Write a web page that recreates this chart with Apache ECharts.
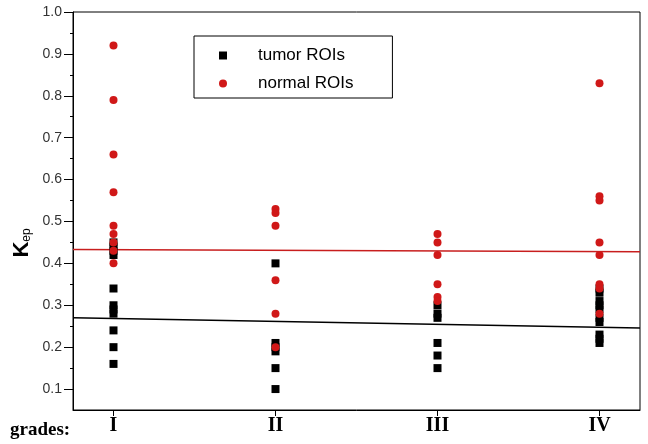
<!DOCTYPE html>
<html>
<head>
<meta charset="utf-8">
<script src="https://cdn.jsdelivr.net/npm/echarts@6/dist/echarts.min.js"></script>
<style>html,body{margin:0;padding:0;background:#fff}#c{width:648px;height:444px}</style>
</head>
<body>
<div id="c"></div>
<script>
var grades = ['I', 'II', 'III', 'IV'];
var yTicks = [0.1, 0.2, 0.3, 0.4, 0.5, 0.6, 0.7, 0.8, 0.9, 1.0];
var yMinorTicks = [0.15, 0.25, 0.35, 0.45, 0.55, 0.65, 0.75, 0.85, 0.95];
var tumorI = [0.45, 0.44, 0.43, 0.42, 0.34, 0.30, 0.29, 0.28, 0.24, 0.20, 0.16];
var tumorII = [0.40, 0.21, 0.20, 0.19, 0.15, 0.10];
var tumorIII = [0.30, 0.28, 0.27, 0.21, 0.18, 0.15];
var tumorIV = [0.34, 0.33, 0.31, 0.30, 0.29, 0.27, 0.26, 0.23, 0.22, 0.21];
var normalI = [0.92, 0.79, 0.66, 0.57, 0.49, 0.47, 0.45, 0.43, 0.40];
var normalII = [0.53, 0.52, 0.49, 0.36, 0.28, 0.20];
var normalIII = [0.47, 0.45, 0.42, 0.35, 0.32, 0.31];
var normalIV = [0.83, 0.56, 0.55, 0.45, 0.42, 0.35, 0.34, 0.28];
var fitX = [0.75, 4.25];
var tumorFit = [0.270, 0.246];
var normalFit = [0.433, 0.428];

function pts(groups) {
  var out = [];
  groups.forEach(function (g, i) { g.forEach(function (v) { out.push([i + 1, v]); }); });
  return out;
}
function line(ys) { return fitX.map(function (x, i) { return [x, ys[i]]; }); }

var chart = echarts.init(document.getElementById('c'));
chart.setOption({
  animation: false,
  grid: { left: 73, right: 8, top: 12, bottom: 34, show: true, borderColor: '#000', borderWidth: 1 },
  xAxis: {
    type: 'value', min: 0.75, max: 4.25,
    splitLine: { show: false },
    axisLine: { lineStyle: { color: '#000', width: 1 } },
    axisTick: { show: true, length: 6, lineStyle: { color: '#000' }, customValues: [1, 2, 3, 4] },
    axisLabel: {
      customValues: [1, 2, 3, 4], margin: 6,
      formatter: function (v) { return grades[Math.round(v) - 1] || ''; },
      fontFamily: 'Liberation Serif', fontWeight: 'bold', fontSize: 20, color: '#000'
    }
  },
  yAxis: [{
    type: 'value', min: 0.05, max: 1.0,
    splitLine: { show: false },
    axisLine: { lineStyle: { color: '#000', width: 1 } },
    axisTick: { show: true, length: 9, lineStyle: { color: '#000' }, customValues: yTicks },
    axisLabel: {
      customValues: yTicks, margin: 11,
      formatter: function (v) { return v.toFixed(1); },
      fontFamily: 'Liberation Sans', fontSize: 14, color: '#333'
    }
  }, {
    type: 'value', min: 0.05, max: 1.0, position: 'left',
    splitLine: { show: false },
    axisLine: { show: false },
    axisTick: { show: true, length: 3, lineStyle: { color: '#000' }, customValues: yMinorTicks },
    axisLabel: { show: false }
  }],
  legend: {
    orient: 'vertical', left: 194, top: 36,
    borderColor: '#000', borderWidth: 1, padding: [11, 39, 6, 25],
    itemWidth: 8, itemHeight: 8, itemGap: 11,
    data: [{ name: 'tumor ROIs', icon: 'rect' }, { name: 'normal ROIs', icon: 'circle' }],
    formatter: function (n) { return '{g|}{t|' + n + '}'; },
    textStyle: {
      rich: {
        g: { width: 26 },
        t: { fontFamily: 'Liberation Sans', fontSize: 17, color: '#000', lineHeight: 20 }
      }
    }
  },
  graphic: [
    {
      type: 'text', x: 10, y: 430,
      style: { text: 'grades:', font: 'bold 19px "Liberation Serif"', fill: '#000', textVerticalAlign: 'middle' }
    },
    {
      type: 'text', x: 22, y: 243, rotation: Math.PI / 2,
      style: {
        text: '{k|K}{s|ep}', textAlign: 'center', textVerticalAlign: 'middle',
        rich: {
          k: { fontFamily: 'Liberation Sans', fontWeight: 'bold', fontSize: 22, fill: '#000', verticalAlign: 'bottom' },
          s: { fontFamily: 'Liberation Sans', fontSize: 12, fill: '#000', verticalAlign: 'bottom' }
        }
      }
    }
  ],
  series: [
    {
      name: 'tumor ROIs', type: 'scatter', symbol: 'rect', symbolSize: 8,
      itemStyle: { color: '#000', opacity: 1 }, data: pts([tumorI, tumorII, tumorIII, tumorIV]), z: 3
    },
    {
      name: 'normal ROIs', type: 'scatter', symbol: 'circle', symbolSize: 8,
      itemStyle: { color: '#d01818', opacity: 1 }, data: pts([normalI, normalII, normalIII, normalIV]), z: 4
    },
    {
      name: 'tumorFit', type: 'line', data: line(tumorFit), showSymbol: false, symbol: 'none',
      lineStyle: { color: '#000', width: 1.5 }, z: 2
    },
    {
      name: 'normalFit', type: 'line', data: line(normalFit), showSymbol: false, symbol: 'none',
      lineStyle: { color: '#c81e1e', width: 1.5 }, z: 2
    }
  ]
});
</script>
</body>
</html>
